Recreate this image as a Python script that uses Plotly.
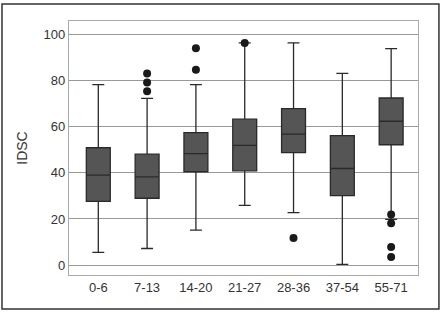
import plotly.graph_objects as go

categories = ["0-6", "7-13", "14-20", "21-27", "28-36", "37-54", "55-71"]
lower_whisker = [5.5, 7.2, 15.2, 25.9, 22.8, 0.3, 19.8]
q1 = [27.6, 29.0, 40.5, 40.9, 48.8, 30.1, 52.2]
median = [39.0, 38.3, 48.4, 51.9, 56.8, 41.9, 62.4]
q3 = [50.9, 48.1, 57.5, 63.3, 67.9, 56.2, 72.5]
upper_whisker = [78.3, 72.3, 78.3, 96.4, 96.4, 83.2, 93.9]
outlier_groups = ["7-13", "7-13", "7-13", "14-20", "14-20", "21-27", "28-36",
                  "55-71", "55-71", "55-71", "55-71"]
outlier_values = [83.1, 79.2, 75.4, 94.1, 84.7, 96.4, 11.7, 22.0, 18.2, 7.9, 3.5]

fig = go.Figure()
fig.add_trace(go.Box(
    x=categories, q1=q1, median=median, q3=q3,
    lowerfence=lower_whisker, upperfence=upper_whisker,
    fillcolor="#555555", line=dict(color="#2a2a2a", width=1.3),
    width=0.49, whiskerwidth=0.5, boxpoints=False, showlegend=False,
))
fig.add_trace(go.Scatter(
    x=outlier_groups, y=outlier_values, mode="markers",
    marker=dict(color="#1a1a1a", size=8), showlegend=False, cliponaxis=False,
))

fig.update_layout(
    width=446, height=315,
    margin=dict(l=69, r=28, t=21, b=40),
    paper_bgcolor="white", plot_bgcolor="white",
    font=dict(family="Liberation Sans, Arial, sans-serif", size=13, color="#333333"),
    xaxis=dict(
        categoryorder="array", categoryarray=categories,
        range=[-0.6, 6.55], showgrid=False, ticks="",
        showline=True, linecolor="#aaaaaa", linewidth=1.3, mirror=True,
        tickfont=dict(size=13),
    ),
    yaxis=dict(
        range=[-4.3, 105.9], tickvals=[0, 20, 40, 60, 80, 100],
        showgrid=True, gridcolor="#999999", gridwidth=1.3,
        zeroline=False, ticks="",
        showline=True, linecolor="#aaaaaa", linewidth=1.3, mirror=True,
        title=dict(text="IDSC", font=dict(size=14), standoff=12),
        tickfont=dict(size=13),
    ),
    shapes=[dict(
        type="rect", xref="paper", yref="paper",
        x0=-0.192, x1=1.06, y0=-0.134, y1=1.067,
        line=dict(color="#333333", width=1.5), fillcolor="rgba(0,0,0,0)",
    )],
)

fig.write_html(
    "out.html",
    config={"displayModeBar": False},
    post_script="document.body.style.margin='0';document.body.style.padding='0';",
)
